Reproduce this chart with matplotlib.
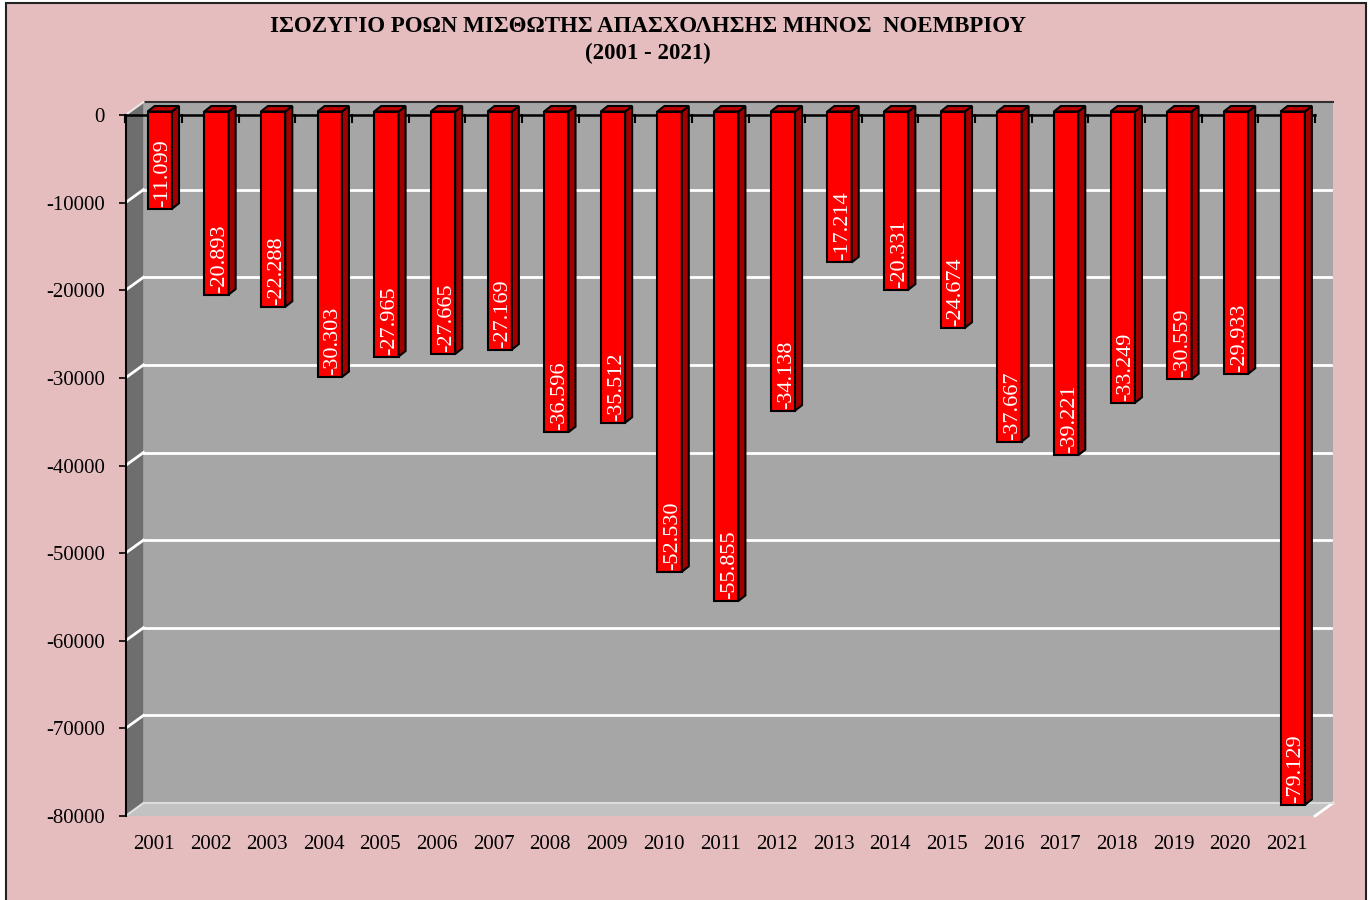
import matplotlib
matplotlib.use("Agg")
import matplotlib.pyplot as plt
from matplotlib.patches import Polygon, Rectangle
from matplotlib.transforms import IdentityTransform, ScaledTranslation

plt.rcParams['font.family'] = ['Liberation Serif', 'DejaVu Serif']

years = [str(y) for y in range(2001, 2022)]
values = [-11099, -20893, -22288, -30303, -27965, -27665, -27169, -36596, -35512,
          -52530, -55855, -34138, -17214, -20331, -24674, -37667, -39221, -33249,
          -30559, -29933, -79129]
y_ticks = list(range(-80000, 1, 10000))
title_line1 = "ΙΣΟΖΥΓΙΟ ΡΟΩΝ ΜΙΣΘΩΤΗΣ ΑΠΑΣΧΟΛΗΣΗΣ ΜΗΝΟΣ  ΝΟΕΜΒΡΙΟΥ"
title_line2 = "(2001 - 2021)"

W, H = 1370, 900
fig = plt.figure(figsize=(W / 100, H / 100), dpi=100)
fig.patch.set_facecolor('white')

# pink page with black frame
fig.add_artist(Rectangle((6 / W, -0.01), 1360 / W, 1 - 3 / H + 0.01, transform=fig.transFigure,
                         facecolor='#e5bdbf', edgecolor='#222222', lw=1.5, zorder=-10))

ax = fig.add_axes([125.5 / W, 84 / H, (1315 - 125.5) / W, (816 - 115) / H])
ax.set_xlim(-0.5, 20.5)
ax.set_ylim(-80000, 0)
ax.patch.set_visible(False)

WX, WY = 18, 13      # depth of the walls (px)
BX, BY = 6, 3.5      # bar front plane offset
DX, DY = 7, 5.5      # bar depth
bw = 0.43


def px(x, y, dx=0, dy=0):
    X, Y = ax.transData.transform((x, y))
    return (X + dx, Y + dy)


def poly(pts, **kw):
    p = Polygon(pts, closed=True, transform=IdentityTransform(), clip_on=False, **kw)
    ax.add_patch(p)


def seg(a, b, **kw):
    ax.plot(*zip(a, b), transform=IdentityTransform(), clip_on=False, **kw)


x0, x1 = -0.5, 20.5
ymin, ymax = -80000, 0

# back wall
poly([px(x0, ymin, WX, WY), px(x1, ymin, WX, WY), px(x1, ymax, WX, WY), px(x0, ymax, WX, WY)],
     facecolor='#a6a6a6', edgecolor='none', zorder=0)
# left wall
poly([px(x0, ymin), px(x0, ymin, WX, WY), px(x0, ymax, WX, WY), px(x0, ymax)],
     facecolor='#6e6e6e', edgecolor='none', zorder=0.5)
# floor
poly([px(x0, ymin), px(x1, ymin), px(x1, ymin, WX, WY), px(x0, ymin, WX, WY)],
     facecolor='#c2c2c2', edgecolor='none', zorder=0.6)
seg(px(x1, ymin), px(x1, ymin, WX, WY), color='white', lw=2, zorder=0.7)
seg(px(x0, ymin, WX, WY), px(x1, ymin, WX, WY), color='#dcdcdc', lw=1.5, zorder=0.7)
seg(px(x0, ymin), px(x0, ymin, WX, WY), color='#e0e0e0', lw=1.5, zorder=0.7)

# top edges of walls
seg(px(x0, ymax, WX, WY), px(x1, ymax, WX, WY), color='#303030', lw=1.5, zorder=0.7)
seg(px(x0, ymax), px(x0, ymax, WX, WY), color='#e8e8e8', lw=1.5, zorder=0.7)

# gridlines
for v in y_ticks[1:-1]:
    seg(px(x0, v, WX, WY), px(x1, v, WX - 2, WY), color='white', lw=2, zorder=1)
    seg(px(x0, v), px(x0, v, WX, WY), color='white', lw=2, zorder=1)

# zero axis line with ticks at category boundaries
ax.plot([x0, x1], [0, 0], color='black', lw=1.8, clip_on=False, zorder=2)
for k in range(22):
    xb = k - 0.5
    seg(px(xb, 0), px(xb, 0, 0, -7), color='black', lw=1.5, zorder=2)

# bars
label_tr = ax.transData + ScaledTranslation((BX + 1) / 100, (BY + 2) / 100, fig.dpi_scale_trans)
for i, v in enumerate(values):
    l, r = i - bw / 2, i + bw / 2
    poly([px(l, v, BX, BY), px(r, v, BX, BY), px(r, 0, BX, BY), px(l, 0, BX, BY)],
         facecolor='#ff0000', edgecolor='black', lw=1.5, zorder=3)
    poly([px(r, v, BX, BY), px(r, v, BX + DX, BY + DY), px(r, 0, BX + DX, BY + DY), px(r, 0, BX, BY)],
         facecolor='#a00000', edgecolor='black', lw=1.5, zorder=3)
    poly([px(l, 0, BX, BY), px(r, 0, BX, BY), px(r, 0, BX + DX, BY + DY), px(l, 0, BX + DX, BY + DY)],
         facecolor='#c00000', edgecolor='black', lw=1.5, zorder=3)
    lab = f"{v / 1000:.3f}"
    ax.text(i + 0.04, v, lab, transform=label_tr, rotation=90, ha='center', va='bottom',
            color='white', fontsize=16, zorder=4, clip_on=False)

# axes styling
for s in ['top', 'right', 'bottom']:
    ax.spines[s].set_visible(False)
ax.spines['left'].set_color('black')
ax.spines['left'].set_linewidth(1.5)
ax.spines['left'].set_zorder(2)
ax.set_yticks(y_ticks)
ax.set_yticklabels([str(t) for t in y_ticks], fontsize=15)
ax.tick_params(axis='y', direction='out', length=5, width=1.2, pad=10)
ax.set_xticks(range(len(years)))
ax.set_xticklabels(years, fontsize=15)
ax.tick_params(axis='x', length=0, pad=14)

fig.text(648 / W, 1 - 27 / H, title_line1, ha='center', va='center', fontsize=16.5, fontweight='bold')
fig.text(648 / W, 1 - 53 / H, title_line2, ha='center', va='center', fontsize=16.5, fontweight='bold')

fig.savefig('out.png', dpi=100)
